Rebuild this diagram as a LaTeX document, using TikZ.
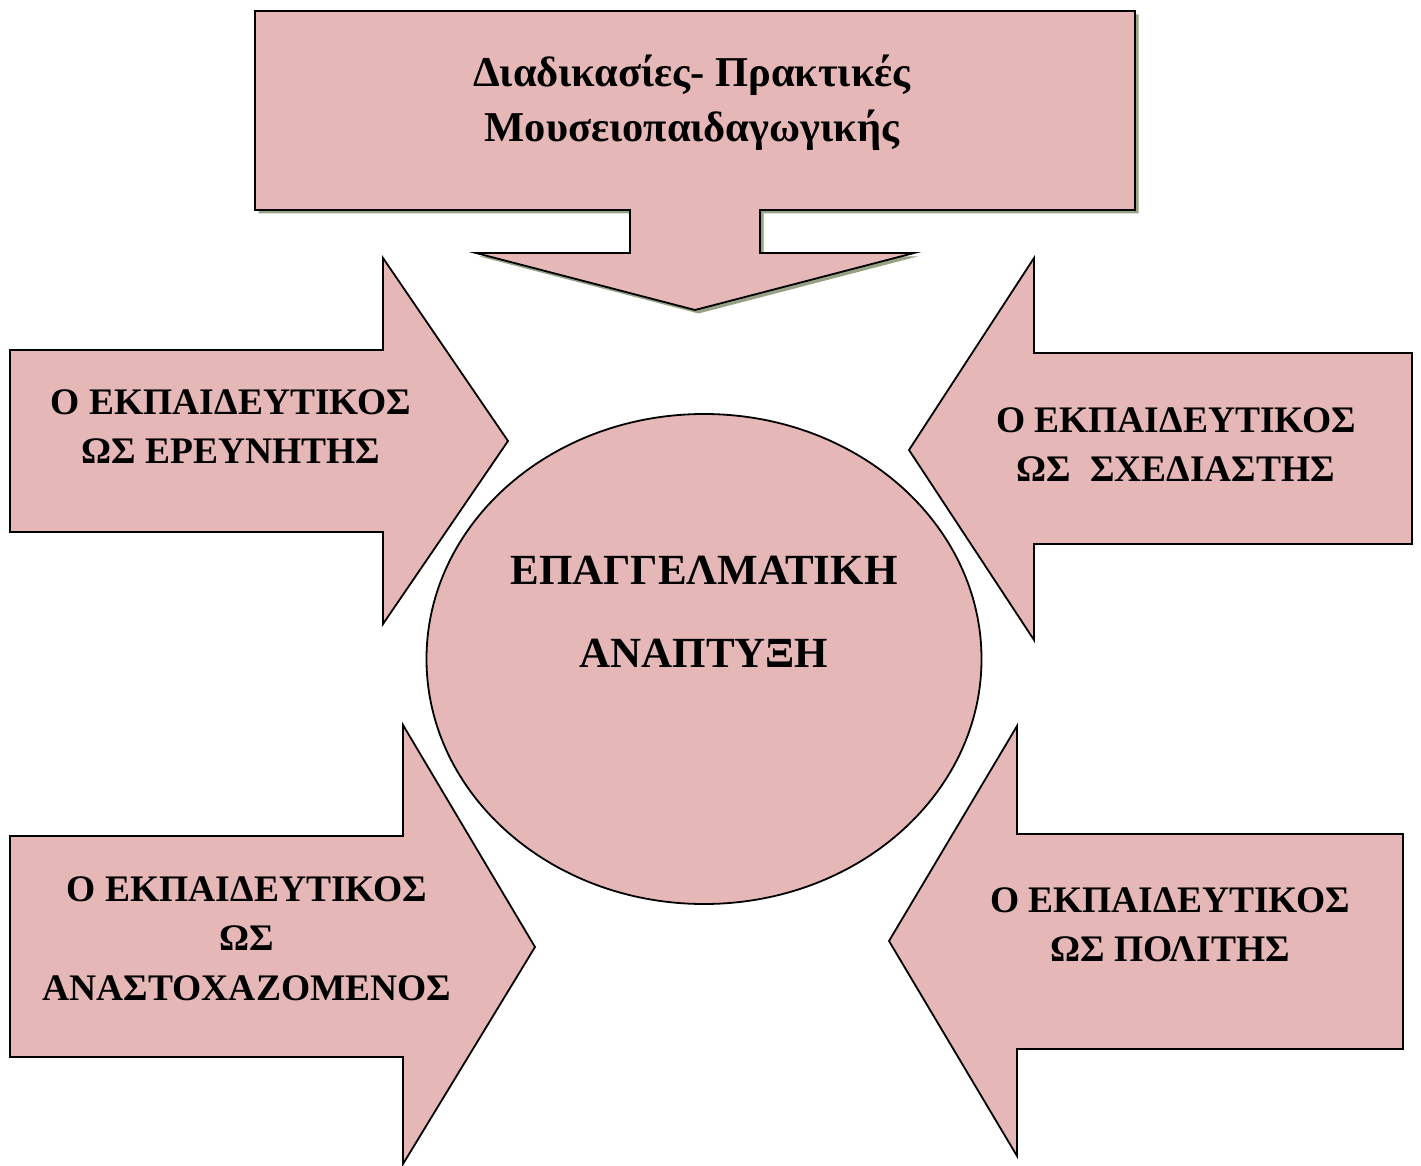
\documentclass[tikz,border=0pt]{standalone}
\usepackage{fontspec}
\setmainfont{Liberation Serif}
\definecolor{rosefill}{HTML}{E5B8B7}
\definecolor{shadowgreen}{HTML}{97A285}

\begin{document}
\begin{tikzpicture}[x=1pt,y=-1pt,
  blockshape/.style={fill=rosefill, draw=black, line width=1.8pt, line join=miter},
  dropshadow/.style={fill=shadowgreen, draw=none},
  lbl/.style={font=\bfseries\fontsize{37.5}{49}\selectfont, align=center, inner sep=0pt, anchor=base},
  biglbl/.style={font=\bfseries\fontsize{43}{83}\selectfont, align=center, inner sep=0pt, anchor=base},
  toplbl/.style={font=\bfseries\fontsize{42.5}{55}\selectfont, align=center, inner sep=0pt, anchor=base}
]
\useasboundingbox (0,0) rectangle (1421,1166);

% down-arrow callout at the top, with its shadow
\fill[dropshadow, shift={(3.5,3.5)}]
  (255,11) -- (1135,11) -- (1135,210) -- (760,210) -- (760,253) -- (914,253)
  -- (695,310) -- (476,253) -- (630,253) -- (630,210) -- (255,210) -- cycle;
\draw[blockshape]
  (255,11) -- (1135,11) -- (1135,210) -- (760,210) -- (760,253) -- (914,253)
  -- (695,310) -- (476,253) -- (630,253) -- (630,210) -- (255,210) -- cycle;

% central ellipse
\draw[blockshape] (704,659) ellipse [x radius=277.5, y radius=245];

% block arrows pointing to the centre
\draw[blockshape] (10,350) -- (383,350) -- (383,258) -- (508,441) -- (383,624)
  -- (383,532) -- (10,532) -- cycle;
\draw[blockshape] (1412,353) -- (1034,353) -- (1034,258) -- (909,450) -- (1034,640)
  -- (1034,544) -- (1412,544) -- cycle;
\draw[blockshape] (10,836) -- (403,836) -- (403,725) -- (535,947) -- (403,1164)
  -- (403,1057) -- (10,1057) -- cycle;
\draw[blockshape] (1403,834) -- (1017,834) -- (1017,726) -- (889,941) -- (1017,1156)
  -- (1017,1049) -- (1403,1049) -- cycle;

% labels (anchored on the baseline of their last line)
\node[toplbl] (top) at (692,142)
  {Διαδικασίες- Πρακτικές\\Μουσειοπαιδαγωγικής};
\node[biglbl] (centre) at (704,667) {ΕΠΑΓΓΕΛΜΑΤΙΚΗ\\ΑΝΑΠΤΥΞΗ};
\node[lbl] (researcher) at (231,463) {Ο ΕΚΠΑΙΔΕΥΤΙΚΟΣ\\ΩΣ ΕΡΕΥΝΗΤΗΣ};
\node[lbl] (designer) at (1176,481) {Ο ΕΚΠΑΙΔΕΥΤΙΚΟΣ\\ΩΣ\ \ ΣΧΕΔΙΑΣΤΗΣ};
\node[lbl, font=\bfseries\fontsize{37.5}{49.5}\selectfont] (reflective) at (247,1000)
  {Ο ΕΚΠΑΙΔΕΥΤΙΚΟΣ\\ΩΣ\\ΑΝΑΣΤΟΧΑΖΟΜΕΝΟΣ};
\node[lbl] (citizen) at (1170,961) {Ο ΕΚΠΑΙΔΕΥΤΙΚΟΣ\\ΩΣ ΠΟΛΙΤΗΣ};
\end{tikzpicture}
\end{document}
